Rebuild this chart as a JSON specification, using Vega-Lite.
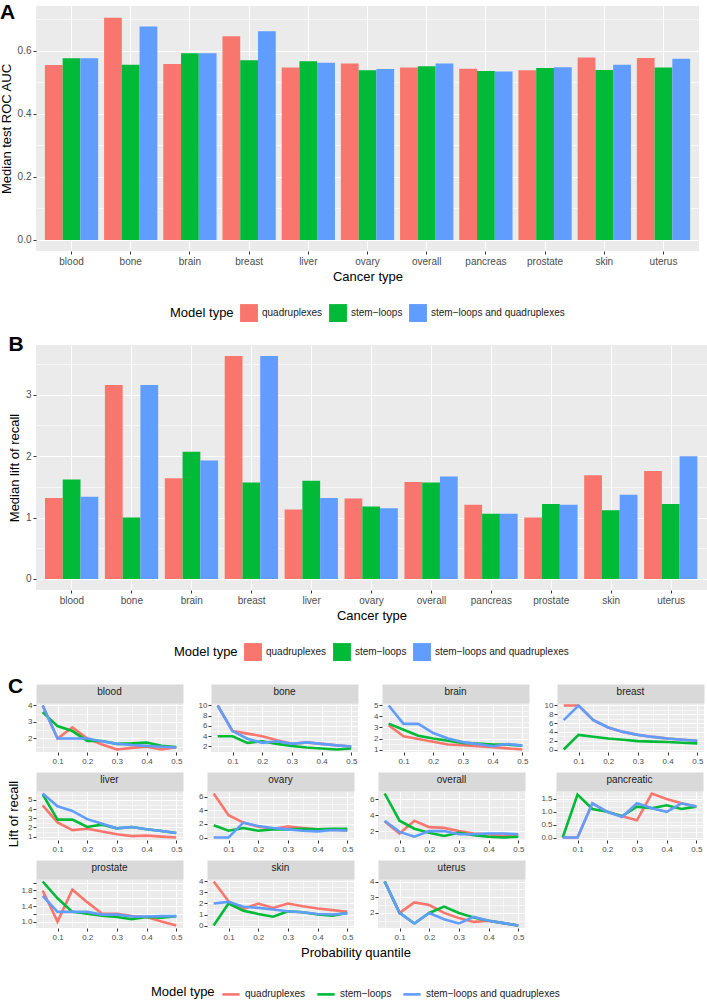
{
"$schema": "https://vega.github.io/schema/vega-lite/v6.json",
"padding": {"left": 0, "top": 2, "right": 0, "bottom": 0},
"background": "white",
"align": "none",
"spacing": 12,
"resolve": {"legend": {"color": "independent"}},
"config": {
  "font": "Liberation Sans",
  "view": {"fill": "#EBEBEB", "stroke": null},
  "axis": {"gridColor": "#FFFFFF", "gridWidth": 1.1, "domain": false, "tickColor": "#333333", "tickSize": 3, "labelColor": "#4D4D4D", "labelFontSize": 10, "labelPadding": 2, "titleFontSize": 13, "titleFontWeight": "normal", "titleColor": "#000000"},
  "legend": {"orient": "bottom", "direction": "horizontal", "titleOrient": "left", "titleFontSize": 13, "titleFontWeight": "normal", "titleColor": "#000000", "labelFontSize": 10, "labelColor": "#1A1A1A", "offset": 21, "columnPadding": 6, "labelOffset": 4, "titlePadding": 6, "layout": {"bottom": {"anchor": "middle"}}},
  "title": {"fontSize": 21, "fontWeight": "bold", "anchor": "start", "color": "#000000"}
},
"datasets": {
"auc": [
{"cancer":"blood","model":"quadruplexes","auc":0.555},{"cancer":"blood","model":"stem−loops","auc":0.576},{"cancer":"blood","model":"stem−loops and quadruplexes","auc":0.576},
{"cancer":"bone","model":"quadruplexes","auc":0.705},{"cancer":"bone","model":"stem−loops","auc":0.556},{"cancer":"bone","model":"stem−loops and quadruplexes","auc":0.677},
{"cancer":"brain","model":"quadruplexes","auc":0.558},{"cancer":"brain","model":"stem−loops","auc":0.592},{"cancer":"brain","model":"stem−loops and quadruplexes","auc":0.592},
{"cancer":"breast","model":"quadruplexes","auc":0.646},{"cancer":"breast","model":"stem−loops","auc":0.570},{"cancer":"breast","model":"stem−loops and quadruplexes","auc":0.662},
{"cancer":"liver","model":"quadruplexes","auc":0.547},{"cancer":"liver","model":"stem−loops","auc":0.567},{"cancer":"liver","model":"stem−loops and quadruplexes","auc":0.562},
{"cancer":"ovary","model":"quadruplexes","auc":0.560},{"cancer":"ovary","model":"stem−loops","auc":0.538},{"cancer":"ovary","model":"stem−loops and quadruplexes","auc":0.542},
{"cancer":"overall","model":"quadruplexes","auc":0.547},{"cancer":"overall","model":"stem−loops","auc":0.551},{"cancer":"overall","model":"stem−loops and quadruplexes","auc":0.560},
{"cancer":"pancreas","model":"quadruplexes","auc":0.543},{"cancer":"pancreas","model":"stem−loops","auc":0.536},{"cancer":"pancreas","model":"stem−loops and quadruplexes","auc":0.534},
{"cancer":"prostate","model":"quadruplexes","auc":0.538},{"cancer":"prostate","model":"stem−loops","auc":0.545},{"cancer":"prostate","model":"stem−loops and quadruplexes","auc":0.548},
{"cancer":"skin","model":"quadruplexes","auc":0.579},{"cancer":"skin","model":"stem−loops","auc":0.539},{"cancer":"skin","model":"stem−loops and quadruplexes","auc":0.556},
{"cancer":"uterus","model":"quadruplexes","auc":0.577},{"cancer":"uterus","model":"stem−loops","auc":0.547},{"cancer":"uterus","model":"stem−loops and quadruplexes","auc":0.575}
],
"lift": [
{"cancer":"blood","model":"quadruplexes","lift":1.32},{"cancer":"blood","model":"stem−loops","lift":1.62},{"cancer":"blood","model":"stem−loops and quadruplexes","lift":1.34},
{"cancer":"bone","model":"quadruplexes","lift":3.16},{"cancer":"bone","model":"stem−loops","lift":1.0},{"cancer":"bone","model":"stem−loops and quadruplexes","lift":3.16},
{"cancer":"brain","model":"quadruplexes","lift":1.64},{"cancer":"brain","model":"stem−loops","lift":2.07},{"cancer":"brain","model":"stem−loops and quadruplexes","lift":1.93},
{"cancer":"breast","model":"quadruplexes","lift":3.63},{"cancer":"breast","model":"stem−loops","lift":1.57},{"cancer":"breast","model":"stem−loops and quadruplexes","lift":3.63},
{"cancer":"liver","model":"quadruplexes","lift":1.13},{"cancer":"liver","model":"stem−loops","lift":1.60},{"cancer":"liver","model":"stem−loops and quadruplexes","lift":1.32},
{"cancer":"ovary","model":"quadruplexes","lift":1.31},{"cancer":"ovary","model":"stem−loops","lift":1.18},{"cancer":"ovary","model":"stem−loops and quadruplexes","lift":1.15},
{"cancer":"overall","model":"quadruplexes","lift":1.58},{"cancer":"overall","model":"stem−loops","lift":1.57},{"cancer":"overall","model":"stem−loops and quadruplexes","lift":1.67},
{"cancer":"pancreas","model":"quadruplexes","lift":1.21},{"cancer":"pancreas","model":"stem−loops","lift":1.06},{"cancer":"pancreas","model":"stem−loops and quadruplexes","lift":1.06},
{"cancer":"prostate","model":"quadruplexes","lift":1.0},{"cancer":"prostate","model":"stem−loops","lift":1.22},{"cancer":"prostate","model":"stem−loops and quadruplexes","lift":1.21},
{"cancer":"skin","model":"quadruplexes","lift":1.69},{"cancer":"skin","model":"stem−loops","lift":1.12},{"cancer":"skin","model":"stem−loops and quadruplexes","lift":1.37},
{"cancer":"uterus","model":"quadruplexes","lift":1.76},{"cancer":"uterus","model":"stem−loops","lift":1.22},{"cancer":"uterus","model":"stem−loops and quadruplexes","lift":2.0}
],
"curves": [
{"cancer":"blood","model":"quadruplexes","q":0.05,"lift":4.0},{"cancer":"blood","model":"quadruplexes","q":0.1,"lift":2.0},{"cancer":"blood","model":"quadruplexes","q":0.15,"lift":2.67},{"cancer":"blood","model":"quadruplexes","q":0.2,"lift":2.0},{"cancer":"blood","model":"quadruplexes","q":0.25,"lift":1.63},{"cancer":"blood","model":"quadruplexes","q":0.3,"lift":1.33},{"cancer":"blood","model":"quadruplexes","q":0.35,"lift":1.43},{"cancer":"blood","model":"quadruplexes","q":0.4,"lift":1.5},{"cancer":"blood","model":"quadruplexes","q":0.45,"lift":1.33},{"cancer":"blood","model":"quadruplexes","q":0.5,"lift":1.47},
{"cancer":"blood","model":"stem−loops","q":0.05,"lift":3.6},{"cancer":"blood","model":"stem−loops","q":0.1,"lift":2.75},{"cancer":"blood","model":"stem−loops","q":0.15,"lift":2.45},{"cancer":"blood","model":"stem−loops","q":0.2,"lift":1.85},{"cancer":"blood","model":"stem−loops","q":0.25,"lift":1.85},{"cancer":"blood","model":"stem−loops","q":0.3,"lift":1.67},{"cancer":"blood","model":"stem−loops","q":0.35,"lift":1.7},{"cancer":"blood","model":"stem−loops","q":0.4,"lift":1.75},{"cancer":"blood","model":"stem−loops","q":0.45,"lift":1.55},{"cancer":"blood","model":"stem−loops","q":0.5,"lift":1.48},
{"cancer":"blood","model":"stem−loops and quadruplexes","q":0.05,"lift":4.0},{"cancer":"blood","model":"stem−loops and quadruplexes","q":0.1,"lift":2.0},{"cancer":"blood","model":"stem−loops and quadruplexes","q":0.15,"lift":2.0},{"cancer":"blood","model":"stem−loops and quadruplexes","q":0.2,"lift":2.0},{"cancer":"blood","model":"stem−loops and quadruplexes","q":0.25,"lift":1.83},{"cancer":"blood","model":"stem−loops and quadruplexes","q":0.3,"lift":1.67},{"cancer":"blood","model":"stem−loops and quadruplexes","q":0.35,"lift":1.6},{"cancer":"blood","model":"stem−loops and quadruplexes","q":0.4,"lift":1.55},{"cancer":"blood","model":"stem−loops and quadruplexes","q":0.45,"lift":1.5},{"cancer":"blood","model":"stem−loops and quadruplexes","q":0.5,"lift":1.45},
{"cancer":"bone","model":"quadruplexes","q":0.05,"lift":10.0},{"cancer":"bone","model":"quadruplexes","q":0.1,"lift":5.0},{"cancer":"bone","model":"quadruplexes","q":0.15,"lift":4.5},{"cancer":"bone","model":"quadruplexes","q":0.2,"lift":4.0},{"cancer":"bone","model":"quadruplexes","q":0.25,"lift":3.2},{"cancer":"bone","model":"quadruplexes","q":0.3,"lift":2.5},{"cancer":"bone","model":"quadruplexes","q":0.35,"lift":2.8},{"cancer":"bone","model":"quadruplexes","q":0.4,"lift":2.5},{"cancer":"bone","model":"quadruplexes","q":0.45,"lift":2.2},{"cancer":"bone","model":"quadruplexes","q":0.5,"lift":2.0},
{"cancer":"bone","model":"stem−loops","q":0.05,"lift":4.0},{"cancer":"bone","model":"stem−loops","q":0.1,"lift":4.0},{"cancer":"bone","model":"stem−loops","q":0.15,"lift":2.7},{"cancer":"bone","model":"stem−loops","q":0.2,"lift":3.0},{"cancer":"bone","model":"stem−loops","q":0.25,"lift":2.5},{"cancer":"bone","model":"stem−loops","q":0.3,"lift":2.1},{"cancer":"bone","model":"stem−loops","q":0.35,"lift":1.8},{"cancer":"bone","model":"stem−loops","q":0.4,"lift":1.6},{"cancer":"bone","model":"stem−loops","q":0.45,"lift":1.4},{"cancer":"bone","model":"stem−loops","q":0.5,"lift":1.6},
{"cancer":"bone","model":"stem−loops and quadruplexes","q":0.05,"lift":10.0},{"cancer":"bone","model":"stem−loops and quadruplexes","q":0.1,"lift":5.0},{"cancer":"bone","model":"stem−loops and quadruplexes","q":0.15,"lift":3.5},{"cancer":"bone","model":"stem−loops and quadruplexes","q":0.2,"lift":2.7},{"cancer":"bone","model":"stem−loops and quadruplexes","q":0.25,"lift":3.0},{"cancer":"bone","model":"stem−loops and quadruplexes","q":0.3,"lift":2.5},{"cancer":"bone","model":"stem−loops and quadruplexes","q":0.35,"lift":2.8},{"cancer":"bone","model":"stem−loops and quadruplexes","q":0.4,"lift":2.5},{"cancer":"bone","model":"stem−loops and quadruplexes","q":0.45,"lift":2.2},{"cancer":"bone","model":"stem−loops and quadruplexes","q":0.5,"lift":2.0},
{"cancer":"brain","model":"quadruplexes","q":0.05,"lift":3.2},{"cancer":"brain","model":"quadruplexes","q":0.1,"lift":2.2},{"cancer":"brain","model":"quadruplexes","q":0.15,"lift":1.95},{"cancer":"brain","model":"quadruplexes","q":0.2,"lift":1.7},{"cancer":"brain","model":"quadruplexes","q":0.25,"lift":1.45},{"cancer":"brain","model":"quadruplexes","q":0.3,"lift":1.4},{"cancer":"brain","model":"quadruplexes","q":0.35,"lift":1.3},{"cancer":"brain","model":"quadruplexes","q":0.4,"lift":1.2},{"cancer":"brain","model":"quadruplexes","q":0.45,"lift":1.1},{"cancer":"brain","model":"quadruplexes","q":0.5,"lift":1.0},
{"cancer":"brain","model":"stem−loops","q":0.05,"lift":3.35},{"cancer":"brain","model":"stem−loops","q":0.1,"lift":2.8},{"cancer":"brain","model":"stem−loops","q":0.15,"lift":2.25},{"cancer":"brain","model":"stem−loops","q":0.2,"lift":2.0},{"cancer":"brain","model":"stem−loops","q":0.25,"lift":1.8},{"cancer":"brain","model":"stem−loops","q":0.3,"lift":1.6},{"cancer":"brain","model":"stem−loops","q":0.35,"lift":1.55},{"cancer":"brain","model":"stem−loops","q":0.4,"lift":1.45},{"cancer":"brain","model":"stem−loops","q":0.45,"lift":1.45},{"cancer":"brain","model":"stem−loops","q":0.5,"lift":1.35},
{"cancer":"brain","model":"stem−loops and quadruplexes","q":0.05,"lift":5.0},{"cancer":"brain","model":"stem−loops and quadruplexes","q":0.1,"lift":3.33},{"cancer":"brain","model":"stem−loops and quadruplexes","q":0.15,"lift":3.33},{"cancer":"brain","model":"stem−loops and quadruplexes","q":0.2,"lift":2.5},{"cancer":"brain","model":"stem−loops and quadruplexes","q":0.25,"lift":2.0},{"cancer":"brain","model":"stem−loops and quadruplexes","q":0.3,"lift":1.67},{"cancer":"brain","model":"stem−loops and quadruplexes","q":0.35,"lift":1.5},{"cancer":"brain","model":"stem−loops and quadruplexes","q":0.4,"lift":1.3},{"cancer":"brain","model":"stem−loops and quadruplexes","q":0.45,"lift":1.5},{"cancer":"brain","model":"stem−loops and quadruplexes","q":0.5,"lift":1.35},
{"cancer":"breast","model":"quadruplexes","q":0.05,"lift":10.0},{"cancer":"breast","model":"quadruplexes","q":0.1,"lift":10.0},{"cancer":"breast","model":"quadruplexes","q":0.15,"lift":6.67},{"cancer":"breast","model":"quadruplexes","q":0.2,"lift":5.0},{"cancer":"breast","model":"quadruplexes","q":0.25,"lift":4.0},{"cancer":"breast","model":"quadruplexes","q":0.3,"lift":3.33},{"cancer":"breast","model":"quadruplexes","q":0.35,"lift":2.86},{"cancer":"breast","model":"quadruplexes","q":0.4,"lift":2.5},{"cancer":"breast","model":"quadruplexes","q":0.45,"lift":2.22},{"cancer":"breast","model":"quadruplexes","q":0.5,"lift":2.0},
{"cancer":"breast","model":"stem−loops","q":0.05,"lift":0.0},{"cancer":"breast","model":"stem−loops","q":0.1,"lift":3.33},{"cancer":"breast","model":"stem−loops","q":0.15,"lift":2.9},{"cancer":"breast","model":"stem−loops","q":0.2,"lift":2.5},{"cancer":"breast","model":"stem−loops","q":0.25,"lift":2.2},{"cancer":"breast","model":"stem−loops","q":0.3,"lift":1.9},{"cancer":"breast","model":"stem−loops","q":0.35,"lift":1.8},{"cancer":"breast","model":"stem−loops","q":0.4,"lift":1.7},{"cancer":"breast","model":"stem−loops","q":0.45,"lift":1.55},{"cancer":"breast","model":"stem−loops","q":0.5,"lift":1.4},
{"cancer":"breast","model":"stem−loops and quadruplexes","q":0.05,"lift":6.67},{"cancer":"breast","model":"stem−loops and quadruplexes","q":0.1,"lift":10.0},{"cancer":"breast","model":"stem−loops and quadruplexes","q":0.15,"lift":6.67},{"cancer":"breast","model":"stem−loops and quadruplexes","q":0.2,"lift":5.0},{"cancer":"breast","model":"stem−loops and quadruplexes","q":0.25,"lift":4.0},{"cancer":"breast","model":"stem−loops and quadruplexes","q":0.3,"lift":3.33},{"cancer":"breast","model":"stem−loops and quadruplexes","q":0.35,"lift":2.86},{"cancer":"breast","model":"stem−loops and quadruplexes","q":0.4,"lift":2.5},{"cancer":"breast","model":"stem−loops and quadruplexes","q":0.45,"lift":2.22},{"cancer":"breast","model":"stem−loops and quadruplexes","q":0.5,"lift":2.0},
{"cancer":"liver","model":"quadruplexes","q":0.05,"lift":4.4},{"cancer":"liver","model":"quadruplexes","q":0.1,"lift":2.55},{"cancer":"liver","model":"quadruplexes","q":0.15,"lift":1.7},{"cancer":"liver","model":"quadruplexes","q":0.2,"lift":1.85},{"cancer":"liver","model":"quadruplexes","q":0.25,"lift":1.55},{"cancer":"liver","model":"quadruplexes","q":0.3,"lift":1.25},{"cancer":"liver","model":"quadruplexes","q":0.35,"lift":1.05},{"cancer":"liver","model":"quadruplexes","q":0.4,"lift":1.1},{"cancer":"liver","model":"quadruplexes","q":0.45,"lift":1.0},{"cancer":"liver","model":"quadruplexes","q":0.5,"lift":0.9},
{"cancer":"liver","model":"stem−loops","q":0.05,"lift":5.6},{"cancer":"liver","model":"stem−loops","q":0.1,"lift":2.85},{"cancer":"liver","model":"stem−loops","q":0.15,"lift":2.85},{"cancer":"liver","model":"stem−loops","q":0.2,"lift":2.05},{"cancer":"liver","model":"stem−loops","q":0.25,"lift":2.3},{"cancer":"liver","model":"stem−loops","q":0.3,"lift":1.9},{"cancer":"liver","model":"stem−loops","q":0.35,"lift":2.05},{"cancer":"liver","model":"stem−loops","q":0.4,"lift":1.8},{"cancer":"liver","model":"stem−loops","q":0.45,"lift":1.6},{"cancer":"liver","model":"stem−loops","q":0.5,"lift":1.4},
{"cancer":"liver","model":"stem−loops and quadruplexes","q":0.05,"lift":5.7},{"cancer":"liver","model":"stem−loops and quadruplexes","q":0.1,"lift":4.3},{"cancer":"liver","model":"stem−loops and quadruplexes","q":0.15,"lift":3.8},{"cancer":"liver","model":"stem−loops and quadruplexes","q":0.2,"lift":2.9},{"cancer":"liver","model":"stem−loops and quadruplexes","q":0.25,"lift":2.4},{"cancer":"liver","model":"stem−loops and quadruplexes","q":0.3,"lift":1.9},{"cancer":"liver","model":"stem−loops and quadruplexes","q":0.35,"lift":2.05},{"cancer":"liver","model":"stem−loops and quadruplexes","q":0.4,"lift":1.8},{"cancer":"liver","model":"stem−loops and quadruplexes","q":0.45,"lift":1.6},{"cancer":"liver","model":"stem−loops and quadruplexes","q":0.5,"lift":1.4},
{"cancer":"ovary","model":"quadruplexes","q":0.05,"lift":6.5},{"cancer":"ovary","model":"quadruplexes","q":0.1,"lift":3.3},{"cancer":"ovary","model":"quadruplexes","q":0.15,"lift":2.2},{"cancer":"ovary","model":"quadruplexes","q":0.2,"lift":1.6},{"cancer":"ovary","model":"quadruplexes","q":0.25,"lift":1.3},{"cancer":"ovary","model":"quadruplexes","q":0.3,"lift":1.6},{"cancer":"ovary","model":"quadruplexes","q":0.35,"lift":1.4},{"cancer":"ovary","model":"quadruplexes","q":0.4,"lift":1.2},{"cancer":"ovary","model":"quadruplexes","q":0.45,"lift":1.1},{"cancer":"ovary","model":"quadruplexes","q":0.5,"lift":1.1},
{"cancer":"ovary","model":"stem−loops","q":0.05,"lift":1.8},{"cancer":"ovary","model":"stem−loops","q":0.1,"lift":1.0},{"cancer":"ovary","model":"stem−loops","q":0.15,"lift":1.4},{"cancer":"ovary","model":"stem−loops","q":0.2,"lift":1.0},{"cancer":"ovary","model":"stem−loops","q":0.25,"lift":1.2},{"cancer":"ovary","model":"stem−loops","q":0.3,"lift":1.2},{"cancer":"ovary","model":"stem−loops","q":0.35,"lift":1.3},{"cancer":"ovary","model":"stem−loops","q":0.4,"lift":1.2},{"cancer":"ovary","model":"stem−loops","q":0.45,"lift":1.3},{"cancer":"ovary","model":"stem−loops","q":0.5,"lift":1.3},
{"cancer":"ovary","model":"stem−loops and quadruplexes","q":0.05,"lift":0.0},{"cancer":"ovary","model":"stem−loops and quadruplexes","q":0.1,"lift":0.0},{"cancer":"ovary","model":"stem−loops and quadruplexes","q":0.15,"lift":2.2},{"cancer":"ovary","model":"stem−loops and quadruplexes","q":0.2,"lift":1.7},{"cancer":"ovary","model":"stem−loops and quadruplexes","q":0.25,"lift":1.4},{"cancer":"ovary","model":"stem−loops and quadruplexes","q":0.3,"lift":1.2},{"cancer":"ovary","model":"stem−loops and quadruplexes","q":0.35,"lift":1.0},{"cancer":"ovary","model":"stem−loops and quadruplexes","q":0.4,"lift":0.9},{"cancer":"ovary","model":"stem−loops and quadruplexes","q":0.45,"lift":1.1},{"cancer":"ovary","model":"stem−loops and quadruplexes","q":0.5,"lift":1.0},
{"cancer":"overall","model":"quadruplexes","q":0.05,"lift":3.2},{"cancer":"overall","model":"quadruplexes","q":0.1,"lift":1.7},{"cancer":"overall","model":"quadruplexes","q":0.15,"lift":3.3},{"cancer":"overall","model":"quadruplexes","q":0.2,"lift":2.5},{"cancer":"overall","model":"quadruplexes","q":0.25,"lift":2.4},{"cancer":"overall","model":"quadruplexes","q":0.3,"lift":2.0},{"cancer":"overall","model":"quadruplexes","q":0.35,"lift":1.7},{"cancer":"overall","model":"quadruplexes","q":0.4,"lift":1.6},{"cancer":"overall","model":"quadruplexes","q":0.45,"lift":1.4},{"cancer":"overall","model":"quadruplexes","q":0.5,"lift":1.5},
{"cancer":"overall","model":"stem−loops","q":0.05,"lift":6.7},{"cancer":"overall","model":"stem−loops","q":0.1,"lift":3.3},{"cancer":"overall","model":"stem−loops","q":0.15,"lift":2.3},{"cancer":"overall","model":"stem−loops","q":0.2,"lift":1.8},{"cancer":"overall","model":"stem−loops","q":0.25,"lift":1.4},{"cancer":"overall","model":"stem−loops","q":0.3,"lift":1.8},{"cancer":"overall","model":"stem−loops","q":0.35,"lift":1.5},{"cancer":"overall","model":"stem−loops","q":0.4,"lift":1.3},{"cancer":"overall","model":"stem−loops","q":0.45,"lift":1.2},{"cancer":"overall","model":"stem−loops","q":0.5,"lift":1.3},
{"cancer":"overall","model":"stem−loops and quadruplexes","q":0.05,"lift":3.3},{"cancer":"overall","model":"stem−loops and quadruplexes","q":0.1,"lift":1.9},{"cancer":"overall","model":"stem−loops and quadruplexes","q":0.15,"lift":1.3},{"cancer":"overall","model":"stem−loops and quadruplexes","q":0.2,"lift":2.0},{"cancer":"overall","model":"stem−loops and quadruplexes","q":0.25,"lift":2.0},{"cancer":"overall","model":"stem−loops and quadruplexes","q":0.3,"lift":1.6},{"cancer":"overall","model":"stem−loops and quadruplexes","q":0.35,"lift":1.6},{"cancer":"overall","model":"stem−loops and quadruplexes","q":0.4,"lift":1.7},{"cancer":"overall","model":"stem−loops and quadruplexes","q":0.45,"lift":1.7},{"cancer":"overall","model":"stem−loops and quadruplexes","q":0.5,"lift":1.6},
{"cancer":"pancreatic","model":"quadruplexes","q":0.05,"lift":0.0},{"cancer":"pancreatic","model":"quadruplexes","q":0.1,"lift":0.0},{"cancer":"pancreatic","model":"quadruplexes","q":0.15,"lift":1.33},{"cancer":"pancreatic","model":"quadruplexes","q":0.2,"lift":1.0},{"cancer":"pancreatic","model":"quadruplexes","q":0.25,"lift":0.83},{"cancer":"pancreatic","model":"quadruplexes","q":0.3,"lift":0.67},{"cancer":"pancreatic","model":"quadruplexes","q":0.35,"lift":1.71},{"cancer":"pancreatic","model":"quadruplexes","q":0.4,"lift":1.5},{"cancer":"pancreatic","model":"quadruplexes","q":0.45,"lift":1.33},{"cancer":"pancreatic","model":"quadruplexes","q":0.5,"lift":1.2},
{"cancer":"pancreatic","model":"stem−loops","q":0.05,"lift":0.0},{"cancer":"pancreatic","model":"stem−loops","q":0.1,"lift":1.67},{"cancer":"pancreatic","model":"stem−loops","q":0.15,"lift":1.11},{"cancer":"pancreatic","model":"stem−loops","q":0.2,"lift":1.0},{"cancer":"pancreatic","model":"stem−loops","q":0.25,"lift":0.83},{"cancer":"pancreatic","model":"stem−loops","q":0.3,"lift":1.2},{"cancer":"pancreatic","model":"stem−loops","q":0.35,"lift":1.14},{"cancer":"pancreatic","model":"stem−loops","q":0.4,"lift":1.25},{"cancer":"pancreatic","model":"stem−loops","q":0.45,"lift":1.11},{"cancer":"pancreatic","model":"stem−loops","q":0.5,"lift":1.2},
{"cancer":"pancreatic","model":"stem−loops and quadruplexes","q":0.05,"lift":0.0},{"cancer":"pancreatic","model":"stem−loops and quadruplexes","q":0.1,"lift":0.0},{"cancer":"pancreatic","model":"stem−loops and quadruplexes","q":0.15,"lift":1.33},{"cancer":"pancreatic","model":"stem−loops and quadruplexes","q":0.2,"lift":1.0},{"cancer":"pancreatic","model":"stem−loops and quadruplexes","q":0.25,"lift":0.8},{"cancer":"pancreatic","model":"stem−loops and quadruplexes","q":0.3,"lift":1.33},{"cancer":"pancreatic","model":"stem−loops and quadruplexes","q":0.35,"lift":1.14},{"cancer":"pancreatic","model":"stem−loops and quadruplexes","q":0.4,"lift":1.0},{"cancer":"pancreatic","model":"stem−loops and quadruplexes","q":0.45,"lift":1.33},{"cancer":"pancreatic","model":"stem−loops and quadruplexes","q":0.5,"lift":1.2},
{"cancer":"prostate","model":"quadruplexes","q":0.05,"lift":1.8},{"cancer":"prostate","model":"quadruplexes","q":0.1,"lift":1.0},{"cancer":"prostate","model":"quadruplexes","q":0.15,"lift":1.82},{"cancer":"prostate","model":"quadruplexes","q":0.2,"lift":1.5},{"cancer":"prostate","model":"quadruplexes","q":0.25,"lift":1.2},{"cancer":"prostate","model":"quadruplexes","q":0.3,"lift":1.2},{"cancer":"prostate","model":"quadruplexes","q":0.35,"lift":1.14},{"cancer":"prostate","model":"quadruplexes","q":0.4,"lift":1.12},{"cancer":"prostate","model":"quadruplexes","q":0.45,"lift":1.0},{"cancer":"prostate","model":"quadruplexes","q":0.5,"lift":0.9},
{"cancer":"prostate","model":"stem−loops","q":0.05,"lift":2.03},{"cancer":"prostate","model":"stem−loops","q":0.1,"lift":1.6},{"cancer":"prostate","model":"stem−loops","q":0.15,"lift":1.25},{"cancer":"prostate","model":"stem−loops","q":0.2,"lift":1.2},{"cancer":"prostate","model":"stem−loops","q":0.25,"lift":1.15},{"cancer":"prostate","model":"stem−loops","q":0.3,"lift":1.12},{"cancer":"prostate","model":"stem−loops","q":0.35,"lift":1.06},{"cancer":"prostate","model":"stem−loops","q":0.4,"lift":1.12},{"cancer":"prostate","model":"stem−loops","q":0.45,"lift":1.1},{"cancer":"prostate","model":"stem−loops","q":0.5,"lift":1.14},
{"cancer":"prostate","model":"stem−loops and quadruplexes","q":0.05,"lift":1.66},{"cancer":"prostate","model":"stem−loops and quadruplexes","q":0.1,"lift":1.25},{"cancer":"prostate","model":"stem−loops and quadruplexes","q":0.15,"lift":1.25},{"cancer":"prostate","model":"stem−loops and quadruplexes","q":0.2,"lift":1.25},{"cancer":"prostate","model":"stem−loops and quadruplexes","q":0.25,"lift":1.18},{"cancer":"prostate","model":"stem−loops and quadruplexes","q":0.3,"lift":1.18},{"cancer":"prostate","model":"stem−loops and quadruplexes","q":0.35,"lift":1.13},{"cancer":"prostate","model":"stem−loops and quadruplexes","q":0.4,"lift":1.13},{"cancer":"prostate","model":"stem−loops and quadruplexes","q":0.45,"lift":1.14},{"cancer":"prostate","model":"stem−loops and quadruplexes","q":0.5,"lift":1.14},
{"cancer":"skin","model":"quadruplexes","q":0.05,"lift":4.0},{"cancer":"skin","model":"quadruplexes","q":0.1,"lift":2.2},{"cancer":"skin","model":"quadruplexes","q":0.15,"lift":1.5},{"cancer":"skin","model":"quadruplexes","q":0.2,"lift":2.0},{"cancer":"skin","model":"quadruplexes","q":0.25,"lift":1.6},{"cancer":"skin","model":"quadruplexes","q":0.3,"lift":2.0},{"cancer":"skin","model":"quadruplexes","q":0.35,"lift":1.75},{"cancer":"skin","model":"quadruplexes","q":0.4,"lift":1.55},{"cancer":"skin","model":"quadruplexes","q":0.45,"lift":1.4},{"cancer":"skin","model":"quadruplexes","q":0.5,"lift":1.25},
{"cancer":"skin","model":"stem−loops","q":0.05,"lift":0.0},{"cancer":"skin","model":"stem−loops","q":0.1,"lift":2.0},{"cancer":"skin","model":"stem−loops","q":0.15,"lift":1.35},{"cancer":"skin","model":"stem−loops","q":0.2,"lift":1.05},{"cancer":"skin","model":"stem−loops","q":0.25,"lift":0.8},{"cancer":"skin","model":"stem−loops","q":0.3,"lift":1.3},{"cancer":"skin","model":"stem−loops","q":0.35,"lift":1.2},{"cancer":"skin","model":"stem−loops","q":0.4,"lift":1.0},{"cancer":"skin","model":"stem−loops","q":0.45,"lift":0.9},{"cancer":"skin","model":"stem−loops","q":0.5,"lift":1.15},
{"cancer":"skin","model":"stem−loops and quadruplexes","q":0.05,"lift":2.0},{"cancer":"skin","model":"stem−loops and quadruplexes","q":0.1,"lift":2.15},{"cancer":"skin","model":"stem−loops and quadruplexes","q":0.15,"lift":1.7},{"cancer":"skin","model":"stem−loops and quadruplexes","q":0.2,"lift":1.6},{"cancer":"skin","model":"stem−loops and quadruplexes","q":0.25,"lift":1.45},{"cancer":"skin","model":"stem−loops and quadruplexes","q":0.3,"lift":1.3},{"cancer":"skin","model":"stem−loops and quadruplexes","q":0.35,"lift":1.2},{"cancer":"skin","model":"stem−loops and quadruplexes","q":0.4,"lift":1.05},{"cancer":"skin","model":"stem−loops and quadruplexes","q":0.45,"lift":1.0},{"cancer":"skin","model":"stem−loops and quadruplexes","q":0.5,"lift":1.1},
{"cancer":"uterus","model":"quadruplexes","q":0.05,"lift":4.0},{"cancer":"uterus","model":"quadruplexes","q":0.1,"lift":2.0},{"cancer":"uterus","model":"quadruplexes","q":0.15,"lift":2.67},{"cancer":"uterus","model":"quadruplexes","q":0.2,"lift":2.5},{"cancer":"uterus","model":"quadruplexes","q":0.25,"lift":2.0},{"cancer":"uterus","model":"quadruplexes","q":0.3,"lift":1.67},{"cancer":"uterus","model":"quadruplexes","q":0.35,"lift":1.43},{"cancer":"uterus","model":"quadruplexes","q":0.4,"lift":1.5},{"cancer":"uterus","model":"quadruplexes","q":0.45,"lift":1.35},{"cancer":"uterus","model":"quadruplexes","q":0.5,"lift":1.2},
{"cancer":"uterus","model":"stem−loops","q":0.05,"lift":4.0},{"cancer":"uterus","model":"stem−loops","q":0.1,"lift":2.0},{"cancer":"uterus","model":"stem−loops","q":0.15,"lift":1.33},{"cancer":"uterus","model":"stem−loops","q":0.2,"lift":2.0},{"cancer":"uterus","model":"stem−loops","q":0.25,"lift":2.4},{"cancer":"uterus","model":"stem−loops","q":0.3,"lift":2.0},{"cancer":"uterus","model":"stem−loops","q":0.35,"lift":1.71},{"cancer":"uterus","model":"stem−loops","q":0.4,"lift":1.5},{"cancer":"uterus","model":"stem−loops","q":0.45,"lift":1.35},{"cancer":"uterus","model":"stem−loops","q":0.5,"lift":1.2},
{"cancer":"uterus","model":"stem−loops and quadruplexes","q":0.05,"lift":4.0},{"cancer":"uterus","model":"stem−loops and quadruplexes","q":0.1,"lift":2.0},{"cancer":"uterus","model":"stem−loops and quadruplexes","q":0.15,"lift":1.33},{"cancer":"uterus","model":"stem−loops and quadruplexes","q":0.2,"lift":2.0},{"cancer":"uterus","model":"stem−loops and quadruplexes","q":0.25,"lift":1.6},{"cancer":"uterus","model":"stem−loops and quadruplexes","q":0.3,"lift":1.33},{"cancer":"uterus","model":"stem−loops and quadruplexes","q":0.35,"lift":1.75},{"cancer":"uterus","model":"stem−loops and quadruplexes","q":0.4,"lift":1.5},{"cancer":"uterus","model":"stem−loops and quadruplexes","q":0.45,"lift":1.35},{"cancer":"uterus","model":"stem−loops and quadruplexes","q":0.5,"lift":1.2}
]
},
"vconcat": [
{
  "title": {"text": "A", "offset": -17},
  "data": {"name": "auc"},
  "width": 663, "height": 245,
  "layer": [
    {"mark": {"type": "bar", "opacity": 0},
     "encoding": {
       "x": {"field": "cancer", "type": "nominal", "title": "Cancer type", "scale": {"paddingInner": 0.1, "paddingOuter": 0.15}, "axis": {"labelAngle": 0, "bandPosition": 0.5, "grid": true}},
       "xOffset": {"field": "model", "type": "nominal", "scale": {"paddingInner": 0, "paddingOuter": 0}},
       "y": {"field": "auc", "type": "quantitative", "scale": {"domain": [-0.035, 0.742], "nice": false}, "axis": {"orient": "left", "values": [0.1, 0.3, 0.5, 0.7], "labels": false, "ticks": false, "grid": true, "gridWidth": 0.55, "title": null}}
     }},
    {"mark": {"type": "bar"},
     "encoding": {
       "x": {"field": "cancer", "type": "nominal", "title": "Cancer type", "scale": {"paddingInner": 0.1, "paddingOuter": 0.15}, "axis": {"labelAngle": 0, "bandPosition": 0.5, "grid": true}},
       "xOffset": {"field": "model", "type": "nominal", "scale": {"paddingInner": 0, "paddingOuter": 0}},
       "y": {"field": "auc", "type": "quantitative", "scale": {"domain": [-0.035, 0.742], "nice": false}, "axis": {"orient": "left", "values": [0, 0.2, 0.4, 0.6], "format": ".1f", "grid": true, "title": "Median test ROC AUC"}},
       "color": {"field": "model", "type": "nominal", "scale": {"domain": ["quadruplexes", "stem−loops", "stem−loops and quadruplexes"], "range": ["#F8766D", "#00BA38", "#619CFF"]}, "title": "Model type", "legend": {"symbolType": "square", "symbolSize": 320, "symbolStrokeWidth": 0}}
     }}
  ],
  "resolve": {"axis": {"y": "independent"}}
},
{
  "title": {"text": "B", "offset": -10},
  "data": {"name": "lift"},
  "width": 671, "height": 245,
  "layer": [
    {"mark": {"type": "bar", "opacity": 0},
     "encoding": {
       "x": {"field": "cancer", "type": "nominal", "title": "Cancer type", "scale": {"paddingInner": 0.1, "paddingOuter": 0.15}, "axis": {"labelAngle": 0, "bandPosition": 0.5, "grid": true}},
       "xOffset": {"field": "model", "type": "nominal", "scale": {"paddingInner": 0, "paddingOuter": 0}},
       "y": {"field": "lift", "type": "quantitative", "scale": {"domain": [-0.18, 3.81], "nice": false}, "axis": {"orient": "left", "values": [0.5, 1.5, 2.5, 3.5], "labels": false, "ticks": false, "grid": true, "gridWidth": 0.55, "title": null}}
     }},
    {"mark": {"type": "bar"},
     "encoding": {
       "x": {"field": "cancer", "type": "nominal", "title": "Cancer type", "scale": {"paddingInner": 0.1, "paddingOuter": 0.15}, "axis": {"labelAngle": 0, "bandPosition": 0.5, "grid": true}},
       "xOffset": {"field": "model", "type": "nominal", "scale": {"paddingInner": 0, "paddingOuter": 0}},
       "y": {"field": "lift", "type": "quantitative", "scale": {"domain": [-0.18, 3.81], "nice": false}, "axis": {"orient": "left", "values": [0, 1, 2, 3], "format": "d", "grid": true, "title": "Median lift of recall"}},
       "color": {"field": "model", "type": "nominal", "scale": {"domain": ["quadruplexes", "stem−loops", "stem−loops and quadruplexes"], "range": ["#F8766D", "#00BA38", "#619CFF"]}, "title": "Model type", "legend": {"symbolType": "square", "symbolSize": 320, "symbolStrokeWidth": 0}}
     }}
  ],
  "resolve": {"axis": {"y": "independent"}}
},
{
  "title": {"text": ["", "C"], "offset": -10, "lineHeight": 3},
  "vconcat": [{
    "title": {"text": "Probability quantile", "orient": "bottom", "anchor": "middle", "fontSize": 13, "fontWeight": "normal", "offset": 6},
    "vconcat": [{
      "title": {"text": "Lift of recall", "orient": "left", "anchor": "middle", "fontSize": 13, "fontWeight": "normal", "offset": 0},
      "data": {"name": "curves"},
      "columns": 4,
      "spacing": {"row": 10, "column": 15},
      "facet": {"field": "cancer", "type": "nominal", "title": null, "header": {"title": null, "labelFontSize": 10, "labelColor": "#1A1A1A", "labelPadding": -3.5}},
      "spec": {
        "width": 147, "height": 49,
        "layer": [
          {"mark": {"type": "point", "opacity": 0},
           "encoding": {
             "x": {"field": "q", "type": "quantitative", "scale": {"domain": [0.0275, 0.5225], "nice": false, "zero": false}, "axis": {"orient": "top", "labels": false, "ticks": false, "grid": false, "domain": true, "domainColor": "#D9D9D9", "domainWidth": 19, "offset": 9.5, "title": null}},
             "y": {"field": "lift", "type": "quantitative", "scale": {"zero": false, "nice": false, "padding": 2.5}, "axis": {"orient": "left", "labels": false, "ticks": false, "grid": true, "gridWidth": 0.55, "tickCount": 8, "title": null}}
           }},
          {"mark": {"type": "point", "opacity": 0},
           "encoding": {
             "x": {"field": "q", "type": "quantitative", "scale": {"domain": [0.0275, 0.5225], "nice": false, "zero": false}, "axis": {"orient": "bottom", "values": [0.05, 0.15, 0.25, 0.35, 0.45], "labels": false, "ticks": false, "grid": true, "gridWidth": 0.55, "title": null}},
             "y": {"field": "lift", "type": "quantitative", "scale": {"zero": false, "nice": false, "padding": 2.5}, "axis": null}
           }},
          {"mark": {"type": "line", "strokeWidth": 2.6},
           "encoding": {
             "x": {"field": "q", "type": "quantitative", "scale": {"domain": [0.0275, 0.5225], "nice": false, "zero": false}, "axis": {"orient": "bottom", "values": [0.1, 0.2, 0.3, 0.4, 0.5], "format": ".1f", "labelFontSize": 8, "grid": true, "title": null}},
             "y": {"field": "lift", "type": "quantitative", "scale": {"zero": false, "nice": false, "padding": 2.5}, "axis": {"orient": "left", "tickCount": 4, "labelFontSize": 8, "labelPadding": 1, "grid": true, "title": null}},
             "color": {"field": "model", "type": "nominal", "scale": {"domain": ["quadruplexes", "stem−loops", "stem−loops and quadruplexes"], "range": ["#F8766D", "#00BA38", "#619CFF"]}, "title": "Model type", "legend": {"symbolType": "stroke", "symbolSize": 300, "symbolStrokeWidth": 2.6, "offset": 24}}
           }}
        ],
        "resolve": {"axis": {"x": "independent", "y": "independent"}}
      },
      "resolve": {"scale": {"y": "independent"}, "axis": {"x": "independent", "y": "independent"}}
    }]
  }]
}
]
}
